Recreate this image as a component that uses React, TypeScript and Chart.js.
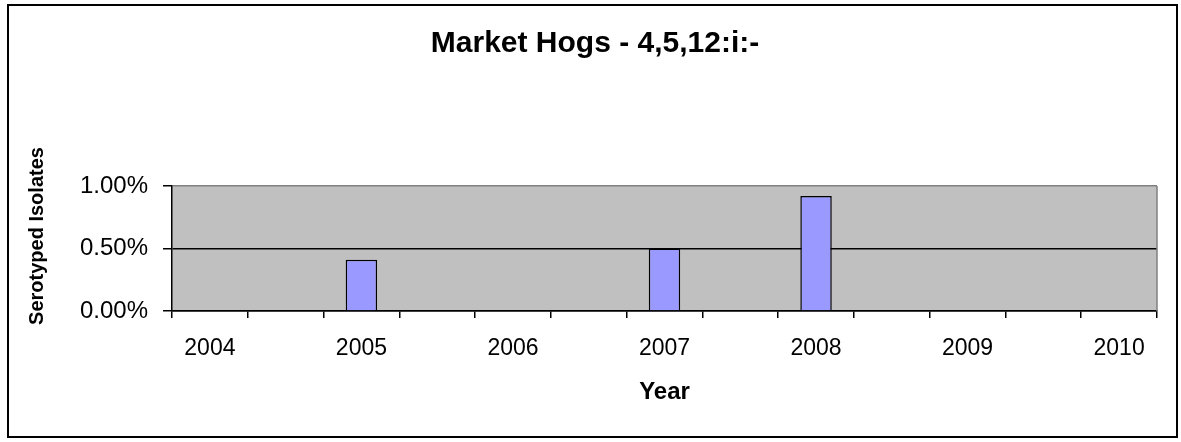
import React, { useEffect, useRef } from "react";
import { Chart, registerables } from "chart.js";

Chart.register(...registerables);

const chartTitle = "Market Hogs - 4,5,12:i:-";
const xAxisTitle = "Year";
const yAxisTitle = "Serotyped Isolates";
// 13 category slots; labels shown on every other slot
const categories = ["2004", "", "2005", "", "2006", "", "2007", "", "2008", "", "2009", "", "2010"];
// percent of serotyped isolates
const isolatePercent = [null, null, 0.41, null, null, null, 0.5, null, 0.92, null, null, null, null];
const yMin = 0;
const yMax = 1;
const yStep = 0.5;

const FONT = "'Liberation Sans', Arial, sans-serif";

const decorPlugin = {
  id: "decor",
  beforeDraw(chart: any) {
    const { ctx, chartArea: a, width, height } = chart;
    ctx.save();
    ctx.fillStyle = "#ffffff";
    ctx.fillRect(0, 0, width, height);
    ctx.fillStyle = "#C0C0C0";
    ctx.fillRect(a.left, a.top, a.right - a.left, a.bottom - a.top);
    ctx.restore();
  },
  beforeDatasetsDraw(chart: any) {
    const { ctx, chartArea: a } = chart;
    ctx.save();
    ctx.strokeStyle = "#808080";
    ctx.lineWidth = 1.5;
    ctx.beginPath();
    ctx.moveTo(a.right, a.top);
    ctx.lineTo(a.right, a.bottom);
    ctx.stroke();
    ctx.restore();
  },
  afterDraw(chart: any) {
    const { ctx } = chart;
    ctx.save();
    // outer frame
    ctx.strokeStyle = "#000";
    ctx.lineWidth = 2;
    ctx.strokeRect(8, 5, 1169, 432);
    // y axis title
    ctx.translate(37, 236);
    ctx.rotate(-Math.PI / 2);
    ctx.fillStyle = "#000";
    ctx.font = `bold 20px ${FONT}`;
    ctx.textAlign = "center";
    ctx.textBaseline = "middle";
    ctx.fillText(yAxisTitle, 0, 0);
    ctx.restore();
  },
};

export default function App() {
  const ref = useRef<HTMLCanvasElement>(null);
  useEffect(() => {
    if (!ref.current) return;
    const chart = new Chart(ref.current, {
      type: "bar",
      data: {
        labels: categories,
        datasets: [
          {
            data: isolatePercent as any,
            backgroundColor: "#9999FF",
            borderColor: "#000000",
            borderWidth: 1.5,
            barPercentage: 0.415,
            categoryPercentage: 1,
          },
        ],
      },
      options: {
        animation: false,
        responsive: false,
        devicePixelRatio: 1,
        layout: { padding: { left: 33, right: 24, top: 0, bottom: 0 } },
        plugins: {
          legend: { display: false },
          tooltip: { enabled: false },
          title: {
            display: true,
            text: chartTitle,
            color: "#000",
            font: { family: FONT, size: 30, weight: "bold", lineHeight: 1.2 },
            padding: { top: 25.4, bottom: 124.6 },
          },
        },
        scales: {
          x: {
            offset: true,
            grid: {
              display: true,
              offset: true,
              drawOnChartArea: false,
              drawTicks: true,
              tickLength: 7,
              color: "#000",
              lineWidth: 1.5,
            },
            border: { display: true, color: "#000", width: 1.5 },
            ticks: {
              autoSkip: false,
              maxRotation: 0,
              color: "#000",
              padding: 17,
              font: { family: FONT, size: 23 },
            },
            title: {
              display: true,
              text: xAxisTitle,
              color: "#000",
              font: { family: FONT, size: 24, weight: "bold", lineHeight: 1.2 },
              padding: { top: 0, bottom: 35 },
            },
            afterFit(scale: any) {
              scale.height = 131;
            },
          },
          y: {
            min: yMin,
            max: yMax,
            grid: {
              color: (c: any) => (c.tick && c.tick.value === yMax ? "#808080" : "#000"),
              tickColor: "#000",
              lineWidth: 1.5,
              tickLength: 9,
              drawTicks: true,
            },
            border: { display: true, color: "#000", width: 1.5 },
            ticks: {
              stepSize: yStep,
              color: "#000",
              padding: 15,
              font: { family: FONT, size: 24 },
              callback: (v: any) => Number(v).toFixed(2) + "%",
            },
            afterFit(scale: any) {
              scale.width = 139;
            },
          },
        },
      },
      plugins: [decorPlugin],
    });
    return () => chart.destroy();
  }, []);
  return (
    <div style={{ position: "absolute", left: 0, top: 0, width: 1181, height: 442 }}>
      <canvas ref={ref} width={1181} height={442} style={{ display: "block" }} />
    </div>
  );
}
